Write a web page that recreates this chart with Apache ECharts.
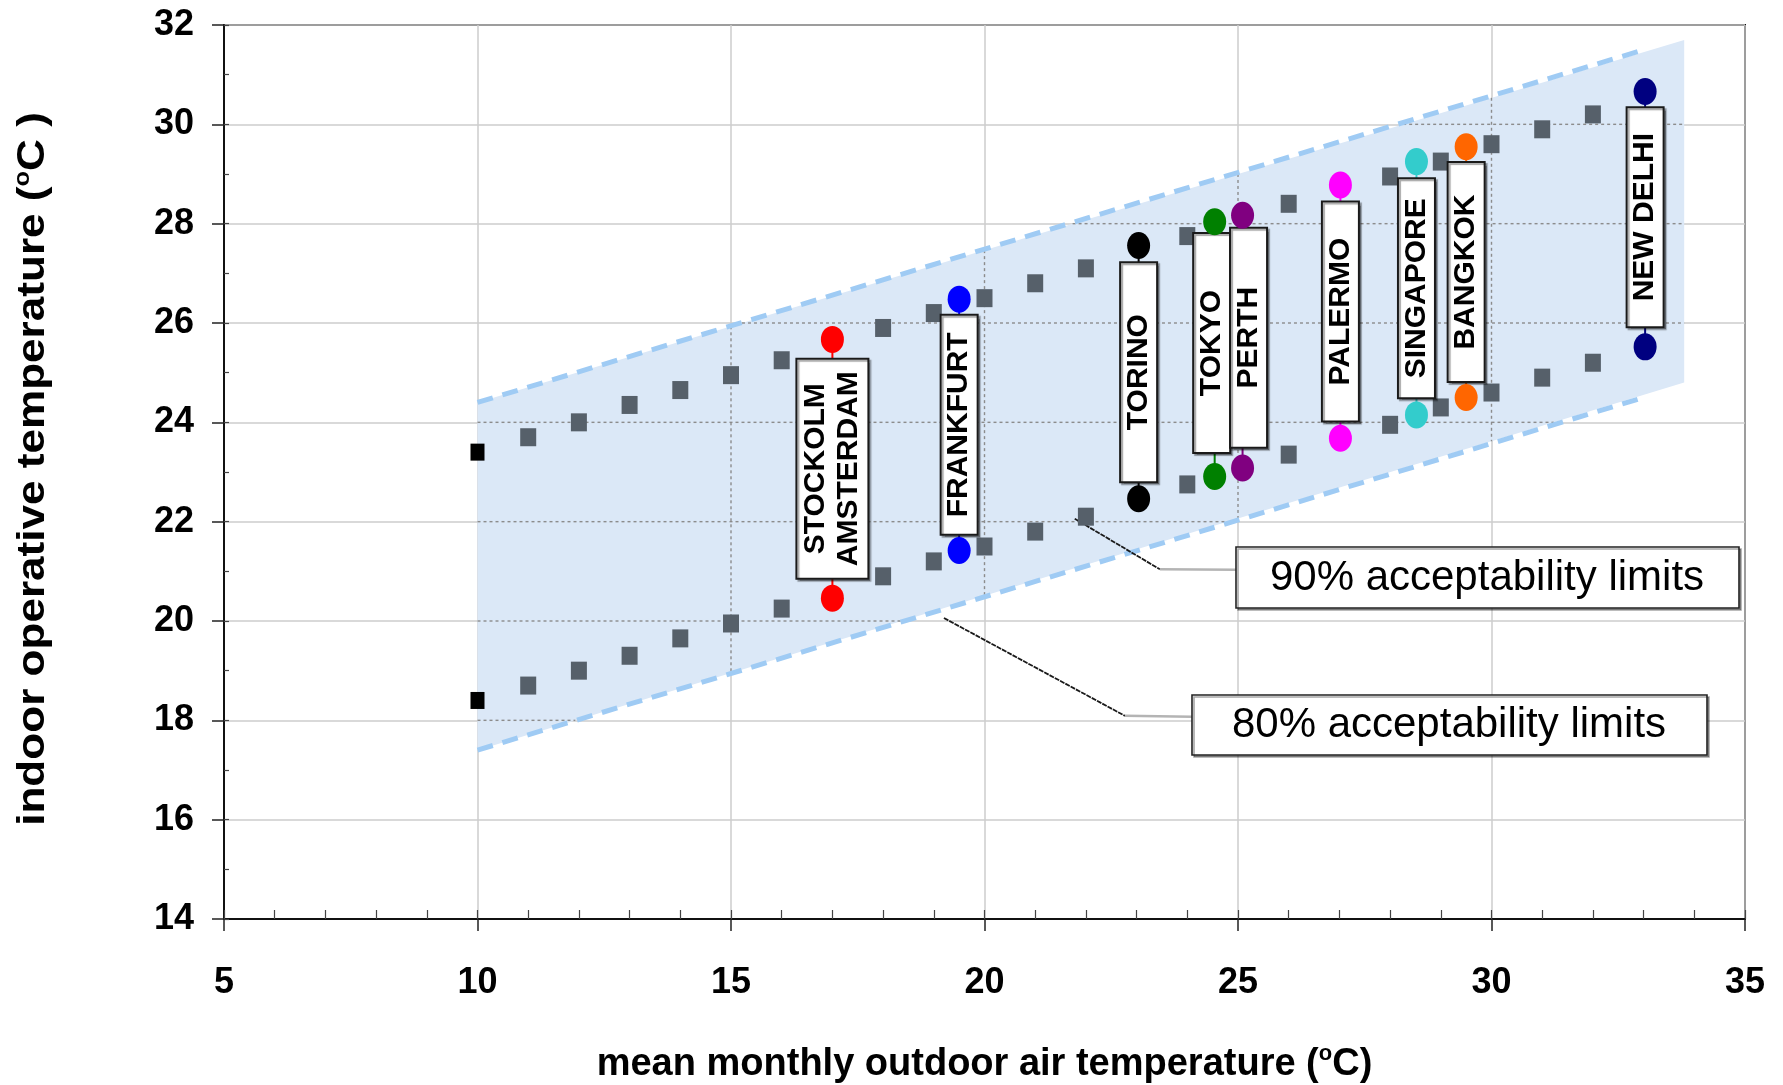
<!DOCTYPE html>
<html>
<head>
<meta charset="utf-8">
<script src="https://cdn.jsdelivr.net/npm/echarts@6/dist/echarts.min.js"></script>
<style>
  html, body { margin: 0; padding: 0; background: #fff; }
  #chart { width: 1783px; height: 1085px; }
</style>
</head>
<body>
<div id="chart"></div>
<script>
// Adaptive comfort chart: indoor operative temperature vs mean monthly outdoor temperature

// 90% acceptability limit markers (outdoor temperature, upper and lower limit)
const limitX  = [10, 11, 12, 13, 14, 15, 16, 18, 19, 20, 21, 22, 24, 26, 28, 29, 30, 31, 32];
const upper90 = [23.4, 23.7, 24.0, 24.35, 24.65, 24.95, 25.25, 25.9, 26.2, 26.5, 26.8, 27.1, 27.75, 28.4, 28.95, 29.25, 29.6, 29.9, 30.2];
const lower90 = [18.4, 18.7, 19.0, 19.3, 19.65, 19.95, 20.25, 20.9, 21.2, 21.5, 21.8, 22.1, 22.75, 23.35, 23.95, 24.3, 24.6, 24.9, 25.2];

// 80% acceptability band (shaded area) and its dashed boundary lines
const bandX      = [10, 33.8];
const bandTop    = [24.4, 31.7];
const bandBottom = [17.4, 24.8];
const limit80X   = [10, 33];
const upper80    = [24.4, 31.5];
const lower80    = [17.4, 24.5];

// Cities: outdoor temperature, upper and lower comfort temperature
const cityNames = ['STOCKOLM\nAMSTERDAM', 'FRANKFURT', 'TORINO', 'TOKYO', 'PERTH', 'PALERMO', 'SINGAPORE', 'BANGKOK', 'NEW DELHI'];
const cityX     = [17.0, 19.5, 23.04, 24.54, 25.09, 27.02, 28.52, 29.5, 33.03];
const cityUpper = [25.67, 26.48, 27.56, 28.04, 28.17, 28.78, 29.25, 29.55, 30.66];
const cityLower = [20.46, 21.42, 22.46, 22.91, 23.08, 23.68, 24.15, 24.5, 25.52];
const cityColors = ['#ff0000', '#0000ff', '#000000', '#008000', '#800080', '#ff00ff', '#33cccc', '#ff6600', '#000080'];
// Pixel nudges for label boxes that would otherwise overlap (TOKYO / PERTH)
const boxShift = [[0, 0], [0, 0], [0, 0], [-3, -6], [6, -4], [0, 0], [0, 0], [0, 0], [0, -2]];

// Leader lines from the limit lines to their captions (data coordinates)
const leader90 = [[21.78, 22.06], [23.46, 21.04], [24.96, 21.03]];
const leader80 = [[19.2, 20.06], [22.77, 18.09], [24.09, 18.07]];

// Axis tick values
const xTicks = [5, 10, 15, 20, 25, 30, 35];
const yTicks = [14, 16, 18, 20, 22, 24, 26, 28, 30, 32];

const FONT = '"Liberation Sans", Arial, Helvetica, sans-serif';

const chart = echarts.init(document.getElementById('chart'), null, { renderer: 'canvas' });

function lerp(xs, ys, x) {
  return ys[0] + (ys[1] - ys[0]) * (x - xs[0]) / (xs[1] - xs[0]);
}
function invLerp(xs, ys, y) {
  return xs[0] + (xs[1] - xs[0]) * (y - ys[0]) / (ys[1] - ys[0]);
}

// Band polygon with the grid lines that cross it drawn dotted on top
function renderBand(params, api) {
  const pts = [
    api.coord([bandX[0], bandTop[0]]),
    api.coord([bandX[1], bandTop[1]]),
    api.coord([bandX[1], bandBottom[1]]),
    api.coord([bandX[0], bandBottom[0]])
  ];
  const children = [{
    type: 'polygon',
    shape: { points: pts },
    style: { fill: '#dbe8f7' }
  }];
  const dotted = { stroke: '#8c8c8c', lineWidth: 1.4, lineDash: [3, 3] };
  yTicks.slice(1, -1).forEach(function (v) {
    const xa = Math.max(bandX[0], invLerp(bandX, bandTop, v));
    const xb = Math.min(bandX[1], invLerp(bandX, bandBottom, v));
    if (xb > xa) {
      const a = api.coord([xa, v]), b = api.coord([xb, v]);
      children.push({ type: 'line', shape: { x1: a[0], y1: a[1], x2: b[0], y2: b[1] }, style: dotted });
    }
  });
  xTicks.forEach(function (v) {
    if (v > bandX[0] && v < bandX[1]) {
      const a = api.coord([v, lerp(bandX, bandTop, v)]);
      const b = api.coord([v, lerp(bandX, bandBottom, v)]);
      children.push({ type: 'line', shape: { x1: a[0], y1: a[1], x2: b[0], y2: b[1] }, style: dotted });
    }
  });
  return { type: 'group', children: children };
}

// City label boxes with a thin line joining the two comfort points
function renderCity(params, api) {
  const i = params.dataIndex;
  const pHi = api.coord([api.value(0), api.value(1)]);
  const pLo = api.coord([api.value(0), api.value(2)]);
  const cx = pHi[0] + boxShift[i][0];
  const cy = (pHi[1] + pLo[1]) / 2 + boxShift[i][1];
  const name = cityNames[i];
  const twoLines = name.indexOf('\n') >= 0;
  const w = twoLines ? 72 : 37;
  const h = 220;
  return {
    type: 'group',
    children: [
      { type: 'line', shape: { x1: pHi[0], y1: pHi[1], x2: pLo[0], y2: pLo[1] },
        style: { stroke: cityColors[i], lineWidth: 2 } },
      { type: 'rect', shape: { x: cx - w / 2, y: cy - h / 2, width: w, height: h },
        style: { fill: '#ffffff', stroke: '#1a1a1a', lineWidth: 2,
                 shadowColor: 'rgba(0,0,0,0.35)', shadowOffsetX: 2, shadowOffsetY: 2, shadowBlur: 1 } },
      { type: 'text', x: cx, y: cy, rotation: Math.PI / 2,
        style: { text: name, font: 'bold 30px ' + FONT, fill: '#000', align: 'center',
                 verticalAlign: 'middle', lineHeight: 33 } }
    ]
  };
}

const squareData = limitX.map(function (x, i) {
  return [x, upper90[i]];
}).concat(limitX.map(function (x, i) {
  return [x, lower90[i]];
})).map(function (p) {
  if (p[0] === limitX[0]) {
    return { value: p, symbolSize: [14, 17], itemStyle: { color: '#000000' } };
  }
  return { value: p };
});

const dotData = [];
cityX.forEach(function (x, i) {
  dotData.push({ value: [x, cityUpper[i]], itemStyle: { color: cityColors[i] } });
  dotData.push({ value: [x, cityLower[i]], itemStyle: { color: cityColors[i] } });
});

const tickLabel = { color: '#000', fontSize: 36, fontWeight: 'bold', fontFamily: FONT };
const titleRich = {
  t: { color: '#000', fontSize: 38, fontWeight: 'bold', fontFamily: FONT, lineHeight: 44 },
  s: { color: '#000', fontSize: 22, fontWeight: 'bold', fontFamily: FONT, lineHeight: 44, verticalAlign: 'top', padding: [0, 0, 18, 0] }
};

const dashStyle = { color: '#9fcbf4', width: 5, type: [16, 10] };
const leaderStyle = { color: '#1a1a1a', width: 1.8, type: [5, 1] };
const tailStyle = { color: '#b4b4b4', width: 2.5 };

const option = {
  animation: false,
  backgroundColor: '#ffffff',
  grid: {
    left: 224, right: 38, top: 25, bottom: 166,
    containLabel: false, outerBoundsMode: 'none',
    show: true, borderColor: '#111', borderWidth: 2, backgroundColor: 'transparent'
  },
  xAxis: [{
    type: 'value', min: 5, max: 35, interval: 5,
    name: '{t|mean monthly outdoor air temperature (}{s|o}{t|C)}',
    nameLocation: 'middle', nameGap: 124,
    nameTextStyle: { rich: titleRich },
    axisLine: { show: true, onZero: false, lineStyle: { color: '#111', width: 2 } },
    axisTick: { show: true, length: 12, lineStyle: { color: '#222', width: 1.5 } },
    axisLabel: Object.assign({ margin: 46 }, tickLabel),
    splitLine: { show: true, lineStyle: { color: '#cdcdcd', width: 1.5 } }
  }, {
    // minor ticks pointing into the plot
    type: 'value', min: 5, max: 35, interval: 1, position: 'bottom',
    axisLine: { show: false },
    axisTick: { show: true, inside: true, length: 9, lineStyle: { color: '#444', width: 1.2 } },
    axisLabel: { show: false },
    splitLine: { show: false }
  }],
  yAxis: [{
    type: 'value', min: 14, max: 32, interval: 2,
    axisLine: { show: true, onZero: false, lineStyle: { color: '#111', width: 2 } },
    axisTick: { show: true, length: 12, lineStyle: { color: '#222', width: 1.5 } },
    axisLabel: Object.assign({ margin: 30 }, tickLabel),
    splitLine: { show: true, lineStyle: { color: '#cdcdcd', width: 1.5 } }
  }, {
    type: 'value', min: 14, max: 32, interval: 1, position: 'left',
    axisLine: { show: false },
    axisTick: { show: true, inside: true, length: 5, lineStyle: { color: '#444', width: 1.2 } },
    axisLabel: { show: false },
    splitLine: { show: false }
  }],
  series: [
    {
      type: 'custom', name: 'band', silent: true, z: 1,
      renderItem: renderBand,
      data: [[bandX[0], bandBottom[0]]],
      clip: false
    },
    {
      type: 'line', name: '80% upper', silent: true, z: 2, symbol: 'none',
      data: limit80X.map(function (x, i) { return [x, upper80[i]]; }),
      lineStyle: dashStyle
    },
    {
      type: 'line', name: '80% lower', silent: true, z: 2, symbol: 'none',
      data: limit80X.map(function (x, i) { return [x, lower80[i]]; }),
      lineStyle: dashStyle
    },
    {
      type: 'scatter', name: '90% limits', silent: true, z: 3,
      symbol: 'rect', symbolSize: [16, 18],
      itemStyle: { color: '#56606a', opacity: 1 },
      data: squareData
    },
    {
      type: 'line', name: 'leader 90', silent: true, z: 3, symbol: 'none',
      data: leader90.slice(0, 2), lineStyle: leaderStyle
    },
    {
      type: 'line', name: 'leader 90 tail', silent: true, z: 3, symbol: 'none',
      data: leader90.slice(1), lineStyle: tailStyle
    },
    {
      type: 'line', name: 'leader 80', silent: true, z: 3, symbol: 'none',
      data: leader80.slice(0, 2), lineStyle: leaderStyle
    },
    {
      type: 'line', name: 'leader 80 tail', silent: true, z: 3, symbol: 'none',
      data: leader80.slice(1), lineStyle: tailStyle
    },
    {
      type: 'custom', name: 'cities', silent: true, z: 4,
      renderItem: renderCity,
      encode: { x: 0, y: [1, 2] },
      data: cityX.map(function (x, i) { return [x, cityUpper[i], cityLower[i]]; })
    },
    {
      type: 'scatter', name: 'city points', silent: true, z: 5,
      symbol: 'circle', symbolSize: [23, 27],
      itemStyle: { opacity: 1 },
      data: dotData
    }
  ],
  graphic: [
    {
      // y-axis title, drawn as rotated text slightly stretched along its length
      type: 'text', x: 34, y: 469, rotation: Math.PI / 2, scaleX: 1.16, z: 100,
      style: {
        text: '{t|indoor operative temperature (}{s|o}{t|C )}',
        rich: titleRich, align: 'center', verticalAlign: 'middle'
      }
    },
    {
      type: 'rect', x: 1236, y: 547, z: 100,
      shape: { x: 0, y: 0, width: 503, height: 61 },
      style: { fill: '#fff', stroke: '#222', lineWidth: 1.6,
               shadowColor: 'rgba(0,0,0,0.35)', shadowOffsetX: 2, shadowOffsetY: 2 }
    },
    {
      type: 'text', x: 1487, y: 578, z: 101,
      style: { text: '90% acceptability limits', font: '42px ' + FONT, fill: '#000',
               align: 'center', verticalAlign: 'middle' }
    },
    {
      type: 'rect', x: 1192, y: 695, z: 100,
      shape: { x: 0, y: 0, width: 515, height: 60 },
      style: { fill: '#fff', stroke: '#222', lineWidth: 1.6,
               shadowColor: 'rgba(0,0,0,0.35)', shadowOffsetX: 2, shadowOffsetY: 2 }
    },
    {
      type: 'text', x: 1449, y: 725, z: 101,
      style: { text: '80% acceptability limits', font: '42px ' + FONT, fill: '#000',
               align: 'center', verticalAlign: 'middle' }
    }
  ]
};

chart.setOption(option);
</script>
</body>
</html>
